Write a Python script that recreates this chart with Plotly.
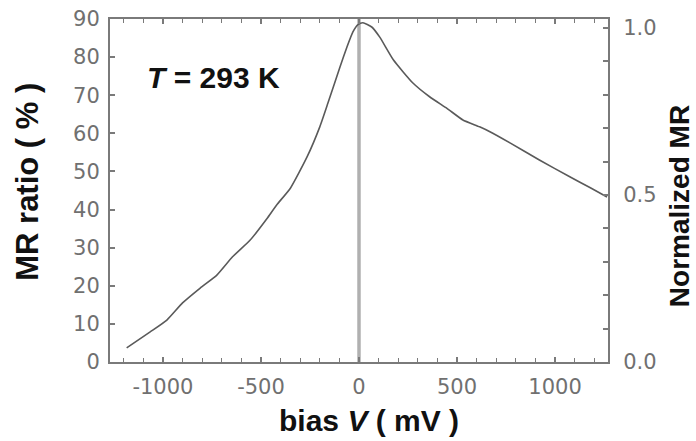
import plotly.graph_objects as go

# ---- data ----
bias_mV = [-1185, -1065, -980, -900, -810, -725, -645, -555, -470, -420, -350, -265,
           -200, -158, -97, -61, -31, -5, 20, 65, 105, 175, 275, 360, 450, 530, 615,
           680, 770, 920, 1075, 1180, 1265]
mr_ratio = [3.7, 7.9, 11.0, 15.5, 19.4, 22.8, 27.6, 32.0, 37.6, 41.2, 45.6, 53.8,
            61.7, 68.0, 77.4, 82.7, 86.6, 88.5, 89.0, 87.9, 85.3, 79.3, 73.2, 69.6,
            66.5, 63.5, 61.7, 60.1, 57.5, 53.0, 48.6, 45.7, 43.3]
mr_norm_ref = 87.7  # MR value mapped to normalized 1.0

x_tickvals = [-1000, -500, 0, 500, 1000]
x_ticktext = ["-1000", "-500", "0", "500", "1000"]
y_tickvals = [0, 10, 20, 30, 40, 50, 60, 70, 80, 90]
y2_tickvals = [0.0, 0.5, 1.0]
y2_ticktext = ["0.0", "0.5", "1.0"]

TICK_FONT = dict(family="DejaVu Sans", size=21, color="#707070")
TITLE_FONT = dict(family="Liberation Sans, Arial", size=30, color="#111111")
AX = "#7a7a7a"

fig = go.Figure()
fig.add_trace(go.Scatter(x=bias_mV, y=mr_ratio, mode="lines",
                         line=dict(color="#5a5a5a", width=1.6, shape="spline",
                                   smoothing=0.5),
                         showlegend=False, hoverinfo="x+y"))
fig.add_trace(go.Scatter(x=bias_mV, y=[v / mr_norm_ref for v in mr_ratio],
                         yaxis="y2", mode="lines",
                         line=dict(color="rgba(0,0,0,0)", width=0),
                         showlegend=False, hoverinfo="skip"))

fig.add_vline(x=0, line=dict(color="#b0b0b0", width=3.5), layer="below")

fig.update_layout(
    width=696, height=441,
    margin=dict(l=110, r=88, t=19, b=79, autoexpand=False),
    paper_bgcolor="white", plot_bgcolor="white",
    xaxis=dict(range=[-1270, 1270], tickvals=x_tickvals, ticktext=x_ticktext,
               ticks="inside", ticklen=5, tickwidth=1.5, tickcolor=AX,
               minor=dict(dtick=100, tick0=0, ticks="inside", ticklen=4,
                          tickwidth=1.2, tickcolor=AX),
               showline=True, linecolor=AX, linewidth=2, mirror="ticks",
               showgrid=False, zeroline=False, tickfont=TICK_FONT,
               ticklabelstandoff=5, automargin=False),
    yaxis=dict(range=[0, 90], tickvals=y_tickvals,
               ticks="inside", ticklen=5, tickwidth=1.5, tickcolor=AX,
               showline=True, linecolor=AX, linewidth=2,
               showgrid=False, zeroline=False, tickfont=TICK_FONT,
               ticklabelstandoff=4, automargin=False),
    yaxis2=dict(range=[0, 1.027], overlaying="y", side="right",
                tickvals=y2_tickvals, ticktext=y2_ticktext,
                ticks="inside", ticklen=5, tickwidth=1.5, tickcolor=AX,
                minor=dict(dtick=0.1, tick0=0, ticks="inside", ticklen=5,
                           tickwidth=1.5, tickcolor=AX),
                showline=True, linecolor=AX, linewidth=2,
                showgrid=False, zeroline=False, tickfont=TICK_FONT,
                ticklabelstandoff=9, automargin=False),
    annotations=[
        dict(text="<b>MR ratio ( % )</b>", textangle=-90, xref="paper", yref="paper",
             x=-0.165, y=0.525, xanchor="center", yanchor="middle",
             showarrow=False, font=dict(family="Liberation Sans, Arial", size=31,
                                        color="#111111")),
        dict(text="<b>Normalized MR</b>", textangle=-90, xref="paper", yref="paper",
             x=1.145, y=0.455, xanchor="center", yanchor="middle",
             showarrow=False, font=dict(family="Liberation Sans, Arial", size=28,
                                        color="#111111")),
        dict(text="<b>bias <i>V</i> ( mV )</b>", xref="paper", yref="paper",
             x=0.52, y=-0.172, xanchor="center", yanchor="middle",
             showarrow=False, font=TITLE_FONT),
        dict(text="<b><i>T</i> = 293 K</b>", xref="paper", yref="paper",
             x=0.07, y=0.828, xanchor="left", yanchor="middle",
             showarrow=False, font=TITLE_FONT),
    ],
)

# remove the browser's default 8px body margin so the figure sits at (0, 0)
fig.write_html("out.html", config={"displayModeBar": False},
               post_script="document.body.style.margin='0px';")
